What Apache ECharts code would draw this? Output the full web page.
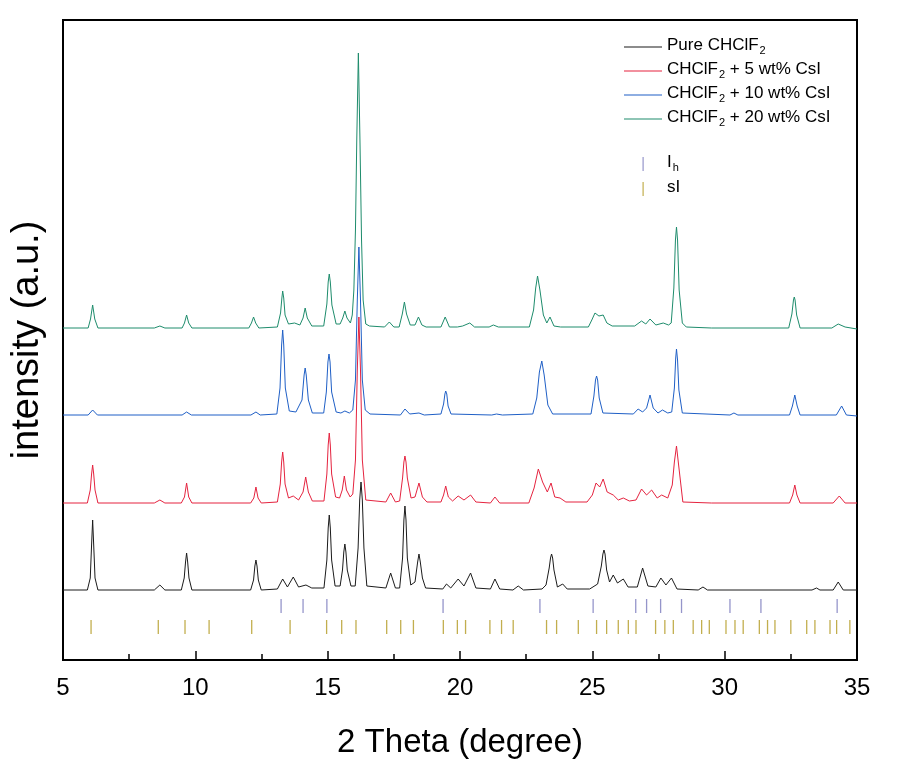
<!DOCTYPE html>
<html>
<head>
<meta charset="utf-8">
<script src="https://cdn.jsdelivr.net/npm/echarts@6/dist/echarts.min.js"></script>
<style>
html,body{margin:0;padding:0;background:#fff;}
#chart{width:911px;height:774px;}
</style>
</head>
<body>
<div id="chart"></div>
<script>
// 2 Theta (degree), intensity (a.u., stacked with offsets as in the figure)
const pureCHClF2 = [[5,70],[5.92,70],[6.03,82],[6.08,115],[6.12,140],[6.16,115],[6.21,82],[6.32,70],
[8.45,70],[8.66,75],[8.85,70],
[9.47,70],[9.58,82],[9.63,98],[9.67,107],[9.71,98],[9.76,82],[9.87,70],
[12.09,70],[12.20,80],[12.25,94],[12.29,100],[12.33,94],[12.38,80],[12.49,70],
[13.10,71],[13.30,81],[13.48,73],[13.70,83],[13.90,73],[14.18,75],[14.40,72],
[14.86,72],[14.97,100],[15.02,132],[15.06,145],[15.10,132],[15.15,100],[15.28,74],
[15.47,74],[15.56,90],[15.61,108],[15.65,116],[15.69,108],[15.74,90],[15.88,74],
[16.04,74],[16.15,112],[16.21,160],[16.26,178],[16.31,160],[16.37,112],[16.48,74],
[17.20,72],[17.38,87],[17.56,72],
[17.72,72],[17.83,102],[17.88,140],[17.92,154],[17.96,140],[18.01,102],[18.14,75],[18.30,78],[18.40,98],[18.45,106],[18.50,98],[18.58,82],[18.70,72],
[19.35,71],[19.49,76],[19.65,72],[19.93,81],[20.15,74],[20.40,87],[20.60,72],
[21.15,71],[21.32,81],[21.50,71],
[22.00,70],[22.20,74],[22.40,70],
[23.10,71],[23.25,75],[23.37,92],[23.42,102],[23.46,106],[23.50,102],[23.55,90],[23.68,73],[23.88,76],[24.05,71],
[24.90,71],[25.20,76],[25.34,94],[25.40,106],[25.44,110],[25.48,106],[25.54,90],[25.65,78],[25.79,85],[25.95,77],[26.17,81],[26.35,73],
[26.70,73],[26.90,92],[27.10,74],[27.40,73],[27.59,82],[27.78,75],[27.99,82],[28.20,71],
[29.00,70],[29.18,73],[29.35,70],
[33.30,70],[33.47,72],[33.60,70],
[34.10,70],[34.29,78],[34.48,70],[35,70]];

const csi5 = [[5,157],[5.92,157],[6.03,170],[6.08,186],[6.12,195],[6.16,186],[6.21,170],[6.32,157],
[8.45,157],[8.66,160],[8.85,157],
[9.47,157],[9.59,163],[9.67,177],[9.75,163],[9.87,157],
[12.09,157],[12.21,162],[12.29,173],[12.37,162],[12.49,157],
[13.10,158],[13.21,176],[13.26,198],[13.30,208],[13.34,198],[13.39,176],[13.52,162],[13.70,164],[13.90,160],[14.07,168],[14.17,183],[14.27,168],[14.42,159],
[14.86,159],[14.97,186],[15.02,215],[15.06,227],[15.10,215],[15.15,186],[15.30,163],
[15.45,162],[15.55,170],[15.63,184],[15.71,170],[15.85,163],
[15.95,166],[16.05,200],[16.12,290],[16.18,343],[16.24,290],[16.31,200],[16.44,160],
[17.20,158],[17.38,167],[17.56,158],
[17.72,159],[17.83,182],[17.88,198],[17.92,204],[17.96,198],[18.01,182],[18.15,162],[18.30,163],[18.45,177],[18.58,163],[18.75,158],
[19.28,158],[19.38,165],[19.46,174],[19.56,163],[19.72,159],[19.93,164],[20.15,160],[20.40,165],[20.60,158],
[21.15,157],[21.32,163],[21.50,157],
[22.60,157],[22.80,172],[22.96,191],[23.12,178],[23.30,168],[23.44,177],[23.58,163],[23.78,162],[24.00,158],
[24.80,158],[25.00,165],[25.14,177],[25.28,173],[25.41,181],[25.56,168],[25.79,165],[25.98,160],[26.17,162],[26.40,159],
[26.65,160],[26.86,171],[27.05,165],[27.24,170],[27.45,162],[27.62,165],[27.85,162],[28.02,175],[28.10,198],[28.18,214],[28.26,195],[28.42,158],
[29.50,157],[32.45,157],[32.57,165],[32.65,175],[32.73,165],[32.85,157],
[34.10,157],[34.33,164],[34.55,157],[35,157]];

const csi10 = [[5,245],[5.95,245],[6.12,250],[6.30,245],
[9.50,245],[9.67,248],[9.85,245],
[12.10,245],[12.29,248],[12.45,245],
[13.08,246],[13.20,272],[13.26,315],[13.30,330],[13.34,315],[13.40,272],[13.55,249],[13.80,248],[14.03,260],[14.11,285],[14.15,292],[14.19,285],[14.27,260],[14.42,247],
[14.85,247],[14.95,268],[15.01,298],[15.05,306],[15.09,298],[15.15,268],[15.32,248],[15.50,247],[15.65,249],[15.82,247],
[15.95,250],[16.05,280],[16.12,360],[16.18,413],[16.24,360],[16.31,280],[16.42,250],[16.60,246],
[17.75,245],[17.92,251],[18.10,246],[18.45,247],[18.65,245],
[19.28,246],[19.38,256],[19.43,266],[19.46,269],[19.50,266],[19.55,254],[19.66,246],
[21.20,245],[21.38,246],[21.60,245],
[22.75,246],[22.90,262],[23.00,288],[23.09,299],[23.18,285],[23.32,255],[23.50,246],
[24.95,246],[25.06,264],[25.12,280],[25.16,284],[25.20,280],[25.26,262],[25.40,247],
[26.55,246],[26.73,251],[26.90,248],[27.05,252],[27.18,265],[27.30,252],[27.48,247],[27.65,250],[27.85,247],
[28.00,248],[28.10,272],[28.15,302],[28.18,311],[28.22,300],[28.27,270],[28.40,247],
[30.20,245],[30.35,247],[30.50,245],
[32.45,245],[32.56,254],[32.65,265],[32.74,254],[32.85,245],
[34.22,245],[34.42,254],[34.60,245],[35,244]];

const csi20 = [[5,332],[5.95,332],[6.04,341],[6.12,355],[6.20,341],[6.32,332],
[8.45,332],[8.66,334],[8.85,332],
[9.50,332],[9.59,337],[9.67,345],[9.75,337],[9.87,332],
[12.02,332],[12.12,337],[12.20,343],[12.28,337],[12.40,332],
[13.10,333],[13.22,347],[13.27,362],[13.30,369],[13.34,362],[13.39,345],[13.52,336],[13.75,337],[13.95,335],[14.07,342],[14.15,352],[14.23,342],[14.40,334],
[14.85,334],[14.97,356],[15.02,378],[15.06,386],[15.10,378],[15.16,355],[15.32,336],
[15.47,336],[15.57,342],[15.65,349],[15.73,342],[15.86,337],
[15.93,345],[15.99,370],[16.05,430],[16.10,520],[16.16,607],[16.22,520],[16.28,420],[16.34,360],[16.44,336],[16.58,334],
[17.15,333],[17.33,338],[17.50,333],
[17.70,333],[17.82,346],[17.90,358],[17.98,346],[18.12,335],[18.30,335],[18.43,343],[18.56,335],[18.72,333],
[19.28,333],[19.44,343],[19.60,333],[19.90,333],[20.10,334],[20.37,337],[20.55,333],
[21.10,333],[21.26,335],[21.45,333],
[22.62,333],[22.78,350],[22.86,372],[22.93,384],[23.02,370],[23.15,345],[23.28,337],[23.40,343],[23.55,334],[23.80,333],
[24.85,333],[24.98,340],[25.10,347],[25.25,344],[25.41,345],[25.55,337],[25.75,334],
[26.60,334],[26.86,339],[27.02,336],[27.18,341],[27.40,335],[27.68,337],[27.88,335],
[27.98,337],[28.08,372],[28.14,420],[28.18,433],[28.22,420],[28.28,370],[28.40,337],[28.55,333],
[29.50,332],[32.42,332],[32.54,346],[32.60,360],[32.63,363],[32.66,360],[32.72,345],[32.85,332],
[34.05,332],[34.29,336],[34.55,333],[35,331]];

// Reference reflection positions (2 Theta)
const ihTicks = [13.24,14.07,14.97,19.36,23.02,25.03,26.64,27.05,27.58,28.37,30.20,31.37,34.25];
const siTicks = [6.06,8.60,9.61,10.52,12.13,13.58,14.96,15.53,16.07,17.23,17.76,18.24,19.37,19.90,
20.21,21.13,21.57,22.01,23.27,23.65,24.47,25.16,25.54,25.98,26.36,26.65,27.39,27.74,28.06,
28.81,29.13,29.42,30.05,30.39,30.70,31.31,31.62,31.90,32.50,33.10,33.41,33.98,34.23,34.73];

const seriesNames = ['Pure CHClF2','CHClF2 + 5 wt% CsI','CHClF2 + 10 wt% CsI','CHClF2 + 20 wt% CsI'];
const tickNames = ['Ih','sI'];
const xTickLabels = [5,10,15,20,25,30,35];

const colors = ['#1b1b1b','#e5233f','#1f5fc6','#1e8c6c'];
const tickColors = ['#7b7bbd','#b39a22'];

const richMap = {
  'Pure CHClF2':'{n|Pure CHClF}{s|2}',
  'CHClF2 + 5 wt% CsI':'{n|CHClF}{s|2}{n| + 5 wt% CsI}',
  'CHClF2 + 10 wt% CsI':'{n|CHClF}{s|2}{n| + 10 wt% CsI}',
  'CHClF2 + 20 wt% CsI':'{n|CHClF}{s|2}{n| + 20 wt% CsI}',
  'Ih':'{n|I}{s|h}',
  'sI':'{n|sI}'
};
const FONT = 'Liberation Sans, Arial, sans-serif';
const rich = {
  n:{fontSize:17, fontFamily:FONT, color:'#000', lineHeight:20, verticalAlign:'top'},
  s:{fontSize:11, fontFamily:FONT, color:'#000', lineHeight:11, padding:[8,0,0,1], verticalAlign:'top'}
};

const dataSets = [pureCHClF2, csi5, csi10, csi20];
const series = dataSets.map((d,i)=>({
  name: seriesNames[i], type:'line', data:d, symbol:'none', showSymbol:false, smooth:false,
  lineStyle:{width:1, color:colors[i]}, itemStyle:{color:colors[i]}, z:2+i
}));
const tickRows = [54, 33];
[ihTicks, siTicks].forEach((t,i)=>{
  series.push({
    name: tickNames[i], type:'scatter', data: t.map(v=>[v, tickRows[i]]),
    symbol:'rect', symbolSize:[1.3, 14], itemStyle:{color:tickColors[i]}, z:10
  });
});

const lineIcon = 'path://M0,0 M38,14 M0,6.5 h38 v1 h-38 z';
const tickIcon = 'path://M0,0 M38,14 M18.5,0 h1.2 v14 h-1.2 z';

const chart = echarts.init(document.getElementById('chart'), null, {renderer:'canvas'});
chart.setOption({
  animation:false,
  backgroundColor:'#fff',
  grid:{left:63, right:54, top:20, bottom:114, show:true, borderColor:'#000', borderWidth:2,
    backgroundColor:'transparent', outerBoundsMode:'none', containLabel:false},
  legend:[{
    data: seriesNames.map(n=>({name:n, icon:lineIcon})), orient:'vertical', left:619, top:32,
    itemWidth:38, itemHeight:14, itemGap:5, symbolKeepAspect:false,
    formatter: n=>richMap[n], textStyle:{rich, fontFamily:FONT}, selectedMode:false
  },{
    data: tickNames.map(n=>({name:n, icon:tickIcon})),
    orient:'vertical', left:619, top:149, itemWidth:38, itemHeight:14, itemGap:6, symbolKeepAspect:false,
    formatter: n=>richMap[n], textStyle:{rich, fontFamily:FONT}, selectedMode:false
  }],
  xAxis:{
    type:'value', min:5, max:35, interval:5,
    axisLine:{show:true, onZero:false, lineStyle:{color:'#000', width:2}},
    axisTick:{show:true, inside:true, length:9, lineStyle:{color:'#000', width:1.5}},
    minorTick:{show:true, splitNumber:2, length:6, lineStyle:{color:'#000', width:1.5}},
    splitLine:{show:false},
    axisLabel:{fontSize:24, color:'#000', margin:16, fontFamily:FONT,
      formatter: v => xTickLabels.includes(v) ? String(v) : ''},
    name:'2 Theta (degree)', nameLocation:'middle', nameGap:66,
    nameTextStyle:{fontSize:33, color:'#000', fontFamily:FONT}
  },
  yAxis:{
    type:'value', min:0, max:640,
    axisLine:{show:true, lineStyle:{color:'#000', width:2}},
    axisTick:{show:false}, axisLabel:{show:false}, splitLine:{show:false},
    name:'intensity (a.u.)', nameLocation:'middle', nameGap:16,
    nameTextStyle:{fontSize:38, color:'#000', fontFamily:FONT}
  },
  series
});
</script>
</body>
</html>
